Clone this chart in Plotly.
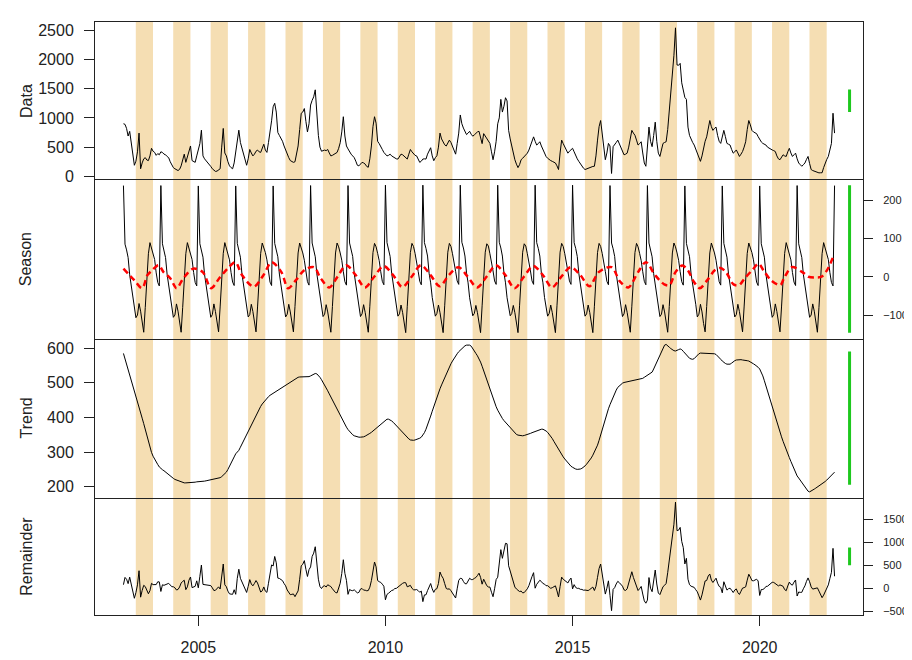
import numpy as np
import plotly.graph_objects as go

# ---------------- data ----------------
start_year = 2003
steps_per_year = 24  # semi-monthly readings

data_values = [
    900, 890, 820, 690, 770, 575, 410, 190, 260, 420, 740, 130, 230, 300, 320, 280, 270, 350, 480, 430, 410, 360, 390, 370,
    420, 410, 380, 370, 340, 320, 250, 190, 150, 130, 110, 100, 120, 180, 280, 380, 240, 330, 460, 520, 270, 250, 240, 350,
    460, 560, 790, 350, 300, 270, 230, 210, 170, 130, 100, 85, 90, 110, 130, 500, 820, 400, 350, 250, 180, 150, 130, 230,
    400, 600, 790, 580, 470, 410, 300, 190, 300, 460, 400, 350, 380, 430, 450, 420, 410, 470, 550, 450, 410, 580, 740, 950,
    1190, 1250, 1100, 750, 700, 660, 600, 520, 440, 360, 320, 270, 250, 240, 250, 380, 520, 800, 1080, 1100, 1160, 940, 760, 900,
    1220, 1300, 1360, 1480, 1000, 700, 500, 430, 440, 450, 440, 460, 400, 350, 360, 380, 400, 410, 480, 575, 760, 1020, 690, 520,
    470, 420, 380, 350, 320, 260, 190, 180, 220, 240, 230, 210, 170, 156, 300, 520, 850, 1020, 910, 600, 560, 520, 460, 410,
    380, 350, 360, 380, 350, 330, 320, 300, 296, 330, 380, 370, 350, 320, 296, 380, 460, 420, 380, 360, 350, 300, 240, 260,
    296, 300, 296, 380, 450, 490, 350, 268, 320, 352, 500, 740, 640, 575, 540, 519, 580, 620, 580, 520, 460, 380, 560, 740,
    1050, 900, 826, 760, 715, 740, 771, 720, 687, 710, 743, 760, 771, 650, 560, 731, 690, 648, 600, 564, 420, 285, 420, 600,
    899, 1000, 1317, 1100, 1200, 1345, 1290, 787, 640, 508, 390, 285, 210, 150, 200, 285, 310, 340, 370, 397, 450, 540, 600, 676,
    600, 536, 560, 592, 520, 452, 400, 341, 310, 285, 270, 257, 240, 229, 180, 117, 400, 620, 560, 508, 450, 397, 430, 460,
    480, 420, 341, 300, 257, 210, 173, 140, 117, 130, 145, 155, 165, 170, 173, 350, 620, 850, 955, 700, 508, 285, 400, 564,
    520, 50, 508, 536, 580, 620, 560, 508, 440, 369, 380, 397, 500, 650, 787, 740, 703, 620, 536, 560, 592, 400, 229, 173,
    500, 843, 600, 508, 700, 927, 600, 397, 341, 450, 564, 580, 592, 800, 1100, 1401, 1800, 2071, 2540, 1904, 1900, 1932, 1600, 1450,
    1350, 1317, 843, 700, 620, 580, 536, 470, 397, 320, 257, 350, 508, 600, 676, 850, 955, 850, 787, 820, 843, 700, 600, 564,
    700, 787, 680, 564, 550, 536, 460, 397, 420, 452, 400, 341, 380, 425, 500, 592, 800, 955, 880, 787, 760, 740, 731, 680,
    620, 590, 564, 550, 536, 500, 480, 470, 452, 440, 425, 350, 300, 285, 330, 369, 350, 341, 420, 480, 400, 341, 370, 397,
    300, 229, 200, 173, 200, 229, 290, 341, 220, 117, 100, 89, 75, 62, 60, 62, 62, 150, 229, 290, 341, 450, 564, 1080,
    740,
]

trend_values = [
    585, 570, 555, 540, 525, 508, 493, 478, 462, 446, 430, 414, 398, 382, 365, 348, 330, 313, 299, 288, 279, 271, 264, 257,
    252, 249, 246, 242, 238, 234, 230, 227, 224, 221, 219, 217, 215, 213, 211, 211, 211, 211, 211, 212, 212, 213, 213, 214,
    214, 215, 215, 216, 216, 217, 218, 218, 219, 220, 221, 221, 222, 224, 226, 229, 233, 237, 242, 250, 258, 267, 276, 286,
    295, 300, 305, 314, 323, 333, 343, 353, 363, 372, 380, 389, 398, 407, 416, 424, 432, 439, 445, 451, 456, 460, 464, 467,
    470, 473, 476, 478, 481, 484, 487, 490, 493, 496, 499, 502, 505, 508, 511, 514, 516, 517, 517, 517, 517, 518, 518, 518,
    520, 523, 525, 527, 526, 522, 516, 509, 502, 494, 486, 477, 468, 459, 450, 441, 432, 423, 414, 405, 396, 388, 380, 372,
    365, 359, 354, 350, 347, 345, 344, 343, 343, 343, 344, 346, 348, 351, 354, 357, 361, 364, 368, 372, 376, 380, 384, 388,
    392, 395, 395, 393, 390, 386, 381, 376, 372, 367, 362, 357, 352, 347, 342, 338, 335, 334, 334, 335, 336, 338, 340, 343,
    348, 356, 366, 377, 390, 404, 418, 432, 446, 459, 471, 483, 494, 505, 516, 526, 536, 546, 555, 563, 571, 578, 584, 590,
    595, 600, 604, 607, 609, 610, 609, 606, 600, 593, 585, 578, 570, 560, 548, 535, 521, 507, 493, 479, 466, 454, 442, 431,
    421, 412, 404, 397, 391, 386, 380, 374, 368, 363, 358, 354, 351, 349, 348, 347, 347, 348, 349, 350, 352, 354, 356, 358,
    360, 362, 364, 365, 366, 366, 364, 361, 357, 352, 346, 339, 331, 323, 315, 307, 299, 292, 286, 280, 274, 268, 263, 259,
    256, 253, 251, 250, 250, 251, 253, 256, 260, 265, 270, 276, 283, 291, 300, 310, 320, 334, 350, 366, 382, 398, 412, 425,
    437, 449, 460, 470, 479, 487, 492, 496, 499, 501, 502, 503, 504, 505, 506, 507, 507, 508, 508, 509, 511, 513, 516, 519,
    521, 523, 526, 531, 540, 550, 561, 572, 583, 594, 603, 609, 611, 608, 603, 599, 595, 593, 592, 593, 596, 598, 596, 591,
    586, 580, 575, 571, 569, 568, 570, 575, 580, 584, 586, 586, 586, 586, 586, 586, 585, 585, 585, 584, 582, 578, 573, 568,
    563, 559, 556, 554, 553, 554, 557, 561, 564, 566, 567, 567, 567, 566, 566, 565, 564, 563, 561, 558, 555, 552, 549, 545,
    540, 532, 520, 506, 491, 476, 461, 445, 429, 413, 397, 383, 370, 357, 344, 331, 318, 306, 295, 284, 273, 262, 251, 241,
    231, 225, 219, 212, 205, 198, 192, 187, 185, 187, 190, 193, 196, 199, 202, 204, 207, 211, 215, 219, 224, 229, 233, 238,
    242,
]

season_values = [
    238, 85, 70, 50, 5, -20, -50, -70, -107, -100, -70, -90, -120, -145, -80, -5, 60, 89, 75, 64, 45, 10, -15, -24,
    238, 86, 71, 50, 6, -20, -51, -70, -106, -100, -71, -90, -121, -145, -80, -4, 60, 89, 76, 64, 45, 11, -15, -24,
    237, 86, 71, 51, 6, -19, -51, -71, -106, -99, -71, -91, -121, -144, -79, -4, 61, 89, 76, 63, 44, 11, -14, -23,
    237, 87, 72, 51, 7, -19, -52, -71, -105, -99, -72, -91, -122, -144, -79, -3, 61, 88, 77, 63, 44, 12, -14, -23,
    237, 87, 72, 52, 7, -18, -52, -72, -105, -98, -72, -92, -122, -144, -78, -3, 62, 88, 77, 62, 43, 12, -13, -22,
    238, 88, 73, 52, 8, -18, -53, -72, -104, -98, -73, -92, -123, -145, -78, -2, 62, 88, 78, 62, 43, 13, -13, -22,
    238, 88, 73, 53, 8, -17, -53, -73, -104, -97, -73, -93, -123, -145, -77, -2, 63, 87, 78, 61, 42, 13, -12, -21,
    239, 89, 74, 53, 9, -17, -54, -73, -103, -97, -74, -93, -124, -146, -77, -1, 63, 87, 79, 61, 42, 14, -12, -21,
    239, 89, 74, 54, 9, -16, -54, -74, -103, -96, -74, -94, -124, -146, -76, -1, 64, 87, 79, 60, 41, 14, -11, -20,
    239, 90, 75, 54, 10, -16, -55, -74, -102, -96, -75, -94, -125, -146, -76, 0, 64, 86, 80, 60, 41, 15, -11, -20,
    239, 90, 75, 54, 10, -16, -55, -74, -102, -96, -75, -94, -125, -146, -76, 0, 64, 86, 80, 60, 41, 15, -11, -20,
    239, 89, 74, 54, 9, -16, -54, -74, -103, -96, -74, -94, -124, -146, -76, -1, 64, 87, 79, 60, 41, 14, -11, -20,
    239, 89, 74, 53, 9, -17, -54, -73, -103, -97, -74, -93, -124, -146, -77, -1, 63, 87, 79, 61, 42, 14, -12, -21,
    238, 88, 73, 53, 8, -17, -53, -73, -104, -97, -73, -93, -123, -145, -77, -2, 63, 87, 78, 61, 42, 13, -12, -21,
    238, 88, 73, 52, 8, -18, -53, -72, -104, -98, -73, -92, -123, -145, -78, -2, 62, 88, 78, 62, 43, 13, -13, -22,
    237, 87, 72, 52, 7, -18, -52, -72, -105, -98, -72, -92, -122, -144, -78, -3, 62, 88, 77, 62, 43, 12, -13, -22,
    237, 87, 72, 51, 7, -19, -52, -71, -105, -99, -72, -91, -122, -144, -79, -3, 61, 88, 77, 63, 44, 12, -14, -23,
    237, 86, 71, 51, 6, -19, -51, -71, -106, -99, -71, -91, -121, -144, -79, -4, 61, 89, 76, 63, 44, 11, -14, -23,
    238, 86, 71, 50, 6, -20, -51, -70, -106, -100, -71, -90, -121, -145, -80, -4, 60, 89, 76, 64, 45, 11, -15, -24,
    238,
]

# red dashed smooth of the seasonal component (time, value)
season_smooth_t = [
    2003.0, 2003.29, 2003.5, 2003.64, 2003.77, 2003.94, 2004.07, 2004.25, 2004.42, 2004.6, 2004.86,
    2005.12, 2005.34, 2005.56, 2005.78, 2005.99, 2006.17, 2006.48, 2006.74, 2006.96, 2007.22, 2007.4,
    2007.61, 2007.83, 2008.09, 2008.27, 2008.5, 2008.72, 2008.95, 2009.2, 2009.45, 2009.7, 2009.95,
    2010.2, 2010.45, 2010.7, 2010.95, 2011.2, 2011.45, 2011.7, 2011.95, 2012.2, 2012.45, 2012.7,
    2012.95, 2013.2, 2013.45, 2013.7, 2013.95, 2014.2, 2014.45, 2014.7, 2014.95, 2015.2, 2015.45,
    2015.7, 2016.04, 2016.27, 2016.49, 2016.75, 2016.96, 2017.2, 2017.45, 2017.59, 2017.75, 2017.93,
    2018.08, 2018.24, 2018.4, 2018.6, 2018.8, 2018.95, 2019.1, 2019.3, 2019.45, 2019.6, 2019.8,
    2019.97, 2020.1, 2020.3, 2020.55, 2020.65, 2020.86, 2021.14, 2021.3, 2021.48, 2021.65, 2021.8, 2021.99,
]
season_smooth_v = [
    21, -9, -30, 4, 17, 30, 12, -4, -30, -4, 21,
    12, -30, -4, 21, 38, 4, -26, 4, 38, 12, -30,
    -9, 17, 25, -4, -28, 0, 30, 5, -28, 0, 28,
    5, -27, 0, 30, 5, -25, 5, 25, 0, -28, 0,
    30, 5, -30, 0, 28, 5, -28, 0, 25, 5, -25,
    12, 25, -13, -28, 12, 38, 5, -20, -22, 12, 29,
    17, -13, -30, -9, 17, 23, 12, -20, -22, -4, 17,
    34, 17, -9, -22, -4, 25, 12, 0, -2, 0, 17, 59,
]

band_years = list(range(2003, 2022))
band_start_offset = 0.33
band_end_offset = 0.79

x_tick_vals = [2005, 2010, 2015, 2020]
data_ticks = [0, 500, 1000, 1500, 2000, 2500]
season_ticks = [-100, 0, 100, 200]
trend_ticks = [200, 300, 400, 500, 600]
remainder_ticks = [-500, 0, 500, 1000, 1500]
panel_labels = ["Data", "Season", "Trend", "Remainder"]

# ---------------- derived series ----------------
n = min(len(data_values), len(trend_values), len(season_values))
t = start_year + np.arange(n) / steps_per_year
data = np.array(data_values[:n], dtype=float)
trend = np.array(trend_values[:n], dtype=float)
season = np.array(season_values[:n], dtype=float)
remainder = data - trend - season

series = [data, season, trend, remainder]


def r_range(arr):
    lo, hi = float(np.min(arr)), float(np.max(arr))
    pad = 0.04 * (hi - lo)
    return [lo - pad, hi + pad]


x_range = r_range(t)

# ---------------- layout geometry ----------------
W, H = 912, 660
m_l, m_r, m_t, m_b = 87, 42, 14, 39
panel_px = [14, 175, 338, 501, 621]
plot_h = H - m_t - m_b
domains = []
for i in range(4):
    d0 = (panel_px[4] - panel_px[i + 1]) / plot_h
    d1 = (panel_px[4] - panel_px[i]) / plot_h
    domains.append([max(0.0, d0), min(1.0, d1)])

axis_col = "#222222"
font_family = "Liberation Sans, Arial, sans-serif"

fig = go.Figure()
line_black = dict(color="black", width=1)
fig.add_trace(go.Scatter(x=t, y=data, xaxis="x", yaxis="y", mode="lines", line=line_black, hoverinfo="skip"))
fig.add_trace(go.Scatter(x=t, y=season, xaxis="x2", yaxis="y2", mode="lines", line=line_black, hoverinfo="skip"))
fig.add_trace(go.Scatter(x=season_smooth_t, y=season_smooth_v, xaxis="x2", yaxis="y2", mode="lines",
                         line=dict(color="#FF0000", width=2.5, dash="6px,4px", shape="spline", smoothing=0.9),
                         hoverinfo="skip"))
fig.add_trace(go.Scatter(x=t, y=trend, xaxis="x3", yaxis="y3", mode="lines", line=line_black, hoverinfo="skip"))
fig.add_trace(go.Scatter(x=t, y=remainder, xaxis="x4", yaxis="y4", mode="lines", line=line_black, hoverinfo="skip"))

layout = dict(
    width=W, height=H,
    margin=dict(l=m_l, r=m_r, t=m_t, b=m_b),
    paper_bgcolor="white", plot_bgcolor="white",
    showlegend=False,
    font=dict(family=font_family, color=axis_col),
)

tick_sets = [data_ticks, season_ticks, trend_ticks, remainder_ticks]
sides = ["left", "right", "left", "right"]
for i in range(4):
    sfx = "" if i == 0 else str(i + 1)
    is_bottom = i == 3
    layout["xaxis" + sfx] = dict(
        domain=[0, 1], anchor="y" + sfx, range=x_range,
        showline=True, mirror=(i == 0), linecolor=axis_col, linewidth=1,
        showgrid=False, zeroline=False,
        ticks="outside" if is_bottom else "", ticklen=10, tickcolor=axis_col,
        tickvals=x_tick_vals if is_bottom else [],
        showticklabels=is_bottom,
        tickfont=dict(size=16, family=font_family, color=axis_col),
        ticklabelstandoff=8,
    )
    left = sides[i] == "left"
    layout["yaxis" + sfx] = dict(
        domain=domains[i], anchor="x" + sfx, range=r_range(series[i]), side=sides[i],
        showline=True, mirror=True, linecolor=axis_col, linewidth=1,
        showgrid=False, zeroline=False,
        ticks="outside", ticklen=10 if left else 9, tickcolor=axis_col,
        tickvals=tick_sets[i],
        tickfont=dict(size=16 if left else 11, family=font_family, color=axis_col),
        ticklabelstandoff=7 if left else 8,
    )

shapes = []
for y in band_years:
    shapes.append(dict(type="rect", xref="x", yref="paper",
                       x0=y + band_start_offset, x1=y + band_end_offset, y0=0, y1=1,
                       fillcolor="#F5DEB3", line=dict(width=0), layer="below"))

# green range bars (equal data length = smallest component range)
mx = min(float(np.max(s) - np.min(s)) for s in series)
bar_x = x_range[1] - 0.0175 * (x_range[1] - x_range[0])
for i, s in enumerate(series):
    sfx = "" if i == 0 else str(i + 1)
    c = (float(np.max(s)) + float(np.min(s))) / 2
    shapes.append(dict(type="line", xref="x" + sfx, yref="y" + sfx,
                       x0=bar_x, x1=bar_x, y0=c - mx / 2, y1=c + mx / 2,
                       line=dict(color="#1EC81E", width=3), layer="above"))
layout["shapes"] = shapes

annotations = []
label_x = (17 - m_l) / (W - m_l - m_r)
for i, lab in enumerate(panel_labels):
    annotations.append(dict(text=lab, xref="paper", yref="paper", x=label_x,
                            y=(domains[i][0] + domains[i][1]) / 2,
                            xanchor="center", yanchor="middle", textangle=-90, showarrow=False,
                            font=dict(size=16, family=font_family, color=axis_col)))
layout["annotations"] = annotations

fig.update_layout(**layout)
fig.write_html("out.html")
